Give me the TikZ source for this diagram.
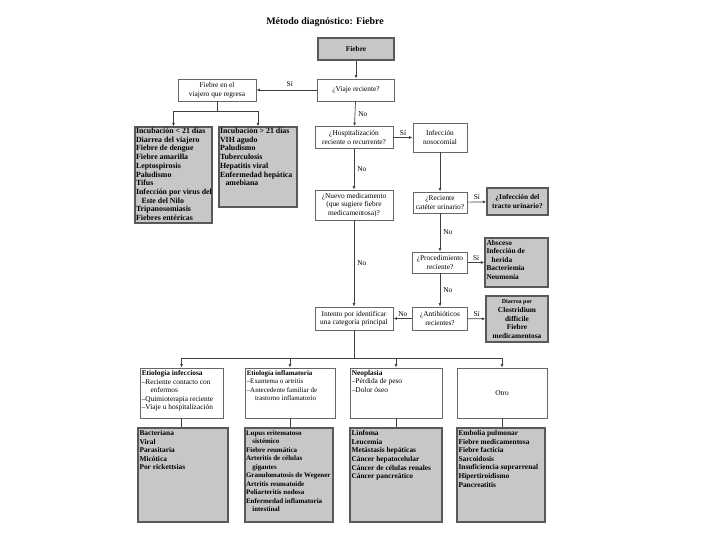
\documentclass[tikz,border=0pt]{standalone}
\usepackage{fontspec}
\setmainfont{Liberation Serif}
\usetikzlibrary{arrows.meta}
\newcommand\fs{\fontsize{7.4}{8.6}\selectfont}
\newcommand\fsi{\fontsize{7.9}{8.75}\selectfont}
\newcommand\fss{\fontsize{7}{8.5}\selectfont}
\begin{document}
\begin{tikzpicture}[x=1bp,y=-1bp,
 wbox/.style={draw=black!60, fill=white, line width=0.9pt, inner sep=1pt, font=\fs, align=center},
 gbox/.style={draw=black!65, fill=black!22, line width=1.3pt, inner sep=1pt, font=\fs\bfseries, align=center},
 txt/.style={inner sep=0pt, font=\fs, align=left, anchor=north west},
 btxt/.style={txt, font=\fs\bfseries},
 lbl/.style={font=\fs, inner sep=1pt},
 conn/.style={draw=black!75, line width=0.7pt},
 arr/.style={conn, -{Latex[length=3.5pt,width=3pt]}},
]
\fill[white] (0,0) rectangle (720,540);
\useasboundingbox (0,0) rectangle (720,540);

\node[font=\fontsize{10}{11}\selectfont\bfseries] (title) at (325,22) {Método diagnóstico: Fiebre};

% top chain
\node[gbox, minimum width=76bp, minimum height=22bp] (fiebre) at (356,49) {Fiebre};
\node[wbox, minimum width=77bp, minimum height=22bp] (viaje) at (356,90) {¿Viaje reciente?};
\node[wbox, minimum width=78bp, minimum height=22bp] (viajero) at (217,90) {Fiebre en el\\viajero que regresa};

\node[gbox, minimum width=77bp, minimum height=96bp] (inc1) at (173.5,175) {};
\node[btxt, font=\fsi\bfseries] at ([shift={(1.5,1.5)}]inc1.north west) {Incubación < 21 días\\Diarrea del viajero\\Fiebre de dengue\\Fiebre amarilla\\Leptospirosis\\Paludismo\\Tifus\\Infección por virus del\\\hspace*{0.7em}Este del Nilo\\Tripanosomiasis\\Fiebres entéricas};
\node[gbox, minimum width=78bp, minimum height=80bp] (inc2) at (258,167) {};
\node[btxt, font=\fsi\bfseries] at ([shift={(1.5,1.5)}]inc2.north west) {Incubación > 21 días\\VIH agudo\\Paludismo\\Tuberculosis\\Hepatitis viral\\Enfermedad hepática\\\hspace*{0.7em}amebiana};

\node[wbox, minimum width=78bp, minimum height=22bp] (hosp) at (354,137.5) {¿Hospitalización\\reciente o recurrente?};
\node[wbox, minimum width=54bp, minimum height=29bp] (noso) at (440,137.5) {Infección\\nosocomial};
\node[wbox, minimum width=78bp, minimum height=30bp] (nuevo) at (354,205) {¿Nuevo medicamento\\(que sugiere fiebre\\medicamentosa)?};
\node[wbox, minimum width=54bp, minimum height=21bp] (cat) at (440,202.5) {¿Reciente\\catéter urinario?};
\node[gbox, minimum width=61bp, minimum height=27bp] (itu) at (517.5,201.5) {¿Infección del\\tracto urinario?};
\node[wbox, minimum width=55bp, minimum height=21bp] (proc) at (440,262.5) {¿Procedimiento\\reciente?};
\node[gbox, minimum width=63bp, minimum height=49bp] (absc) at (516.5,262.5) {};
\node[btxt] at ([shift={(2,2.5)}]absc.north west) {Absceso\\Infección de\\\hspace*{0.7em}herida\\Bacteriemia\\Neumonía};
\node[wbox, minimum width=55bp, minimum height=23bp] (anti) at (440,318.5) {¿Antibióticos\\recientes?};
\node[wbox, minimum width=78bp, minimum height=23bp] (intento) at (354,318.5) {Intento por identificar\\una categoría principal};
\node[gbox, minimum width=62bp, minimum height=46bp] (diarr) at (517,319) {{\fontsize{6}{7}\selectfont Diarrea por}\\Clostridium\\difficile\\Fiebre\\medicamentosa};

% bottom categories
\node[wbox, minimum width=83bp, minimum height=50bp] (w1) at (181.5,393) {};
\node[txt] at ([shift={(2,2.5)}]w1.north west) {\textbf{Etiología infecciosa}\\–Reciente contacto con\\\hspace*{1.2em}enfermos\\–Quimioterapia reciente\\–Viaje u hospitalización};
\node[wbox, minimum width=90bp, minimum height=50bp] (w2) at (290,393) {};
\node[txt, font=\fss] at ([shift={(2,2.5)}]w2.north west) {\textbf{Etiología inflamatoria}\\–Exantema o artritis\\–Antecedente familiar de\\\hspace*{1.2em}trastorno inflamatorio};
\node[wbox, minimum width=92bp, minimum height=50bp] (w3) at (396,393) {};
\node[txt] at ([shift={(2,2.5)}]w3.north west) {\textbf{Neoplasia}\\–Pérdida de peso\\–Dolor óseo};
\node[wbox, minimum width=90bp, minimum height=50bp] (w4) at (502,393) {Otro};

\node[gbox, minimum width=90bp, minimum height=94bp] (g1) at (183,475) {};
\node[btxt] at ([shift={(2,3)}]g1.north west) {Bacteriana\\Viral\\Parasitaria\\Micótica\\Por rickettsias};
\node[gbox, minimum width=88bp, minimum height=94bp] (g2) at (289,475) {};
\node[btxt, font=\fss\bfseries] at ([shift={(1.5,3)}]g2.north west) {Lupus eritematoso\\\hspace*{0.9em}sistémico\\Fiebre reumática\\Arteritis de células\\\hspace*{0.9em}gigantes\\Granulomatosis de Wegener\\Artritis reumatoide\\Poliarteritis nodosa\\Enfermedad inflamatoria\\\hspace*{0.9em}intestinal};
\node[gbox, minimum width=92bp, minimum height=94bp] (g3) at (396,475) {};
\node[btxt] at ([shift={(2,3)}]g3.north west) {Linfoma\\Leucemia\\Metástasis hepáticas\\Cáncer hepatocelular\\Cáncer de células renales\\Cáncer pancreático};
\node[gbox, minimum width=88bp, minimum height=94bp] (g4) at (501,475) {};
\node[btxt] at ([shift={(2,3)}]g4.north west) {Embolia pulmonar\\Fiebre medicamentosa\\Fiebre facticia\\Sarcoidosis\\Insuficiencia suprarrenal\\Hipertiroidismo\\Pancreatitis};

% connectors
\draw[arr] (fiebre) -- (viaje);
\draw[arr] (viaje) -- node[lbl, above, pos=0.45, yshift=2pt] {Sí} (viajero);
\draw[arr] (viaje) -- node[lbl, right, xshift=2pt] {No} (hosp);
\coordinate (vb) at (217,111);
\draw[conn] (viajero.south) -- (vb);
\draw[conn] (inc1.north |- vb) -- (inc2.north |- vb);
\draw[arr] (inc1.north |- vb) -- (inc1.north);
\draw[arr] (inc2.north |- vb) -- (inc2.north);

\draw[arr] (hosp) -- node[lbl, above, yshift=1pt] {Sí} (noso);
\draw[arr] (hosp) -- node[lbl, right, xshift=2pt] {No} (nuevo);
\draw[arr] (noso) -- (cat);
\draw[arr] (cat) -- node[lbl, above, yshift=1pt] {Sí} (itu);
\draw[arr] (cat) -- node[lbl, right, xshift=2pt] {No} (proc);
\draw[arr] (proc) -- node[lbl, above, yshift=1pt] {Sí} (absc);
\draw[arr] (proc) -- node[lbl, right, xshift=2pt] {No} (anti);
\draw[arr] (anti) -- node[lbl, above, yshift=1pt] {Sí} (diarr);
\draw[arr] (anti) -- node[lbl, above, yshift=1pt] {No} (intento);
\draw[arr] (nuevo) -- node[lbl, right, xshift=2pt] {No} (intento);

\coordinate (hb) at (354,358);
\draw[conn] (intento.south) -- (hb);
\draw[conn] (w1.north |- hb) -- (w4.north |- hb);
\foreach \w in {w1,w2,w3,w4}{\draw[arr] (\w.north |- hb) -- (\w.north);}
\draw[conn] (w1.south) -- (w1.south |- g1.north);
\draw[conn] (w2.south) -- (w2.south |- g2.north);
\draw[conn] (w3.south) -- (w3.south |- g3.north);
\draw[conn] (w4.south) -- (w4.south |- g4.north);
\end{tikzpicture}
\end{document}
